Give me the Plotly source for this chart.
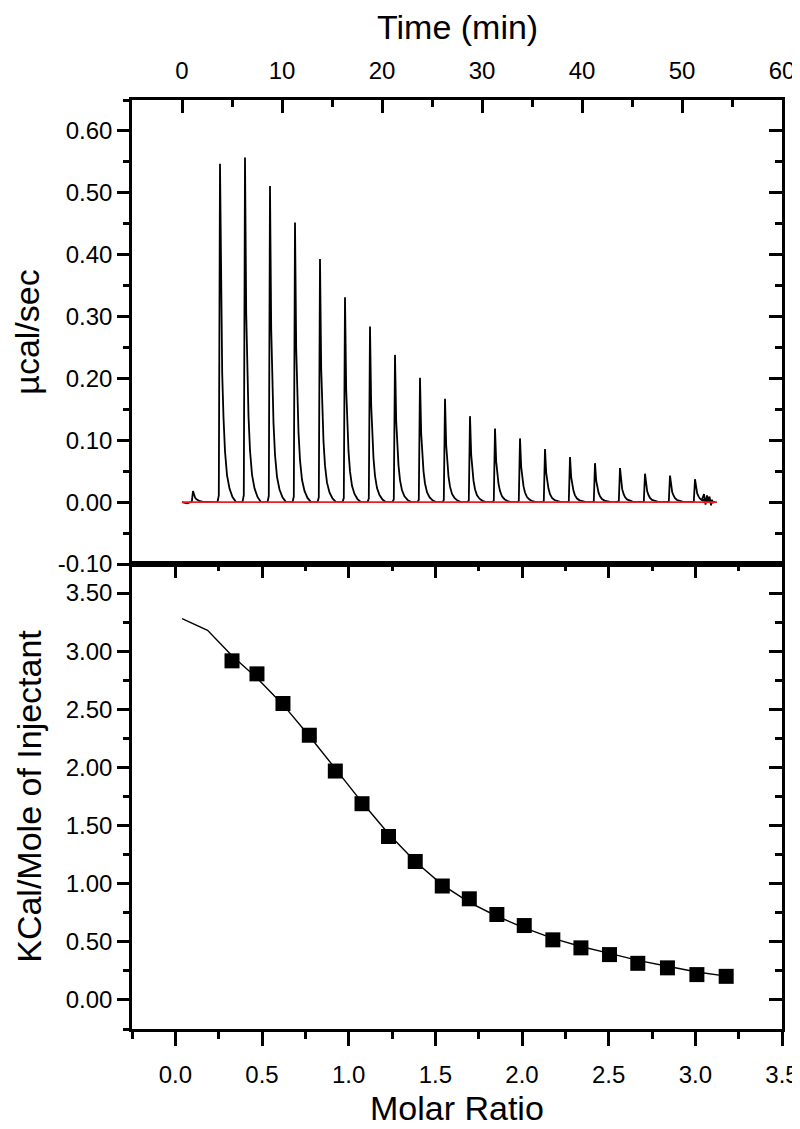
"""ITC titration figure: raw heat trace on top, integrated heats with fit below."""

import plotly.graph_objects as go

# --- raw thermogram (top panel) ---------------------------------------------
# peak times (min) and peak heights (ucal/sec)
PEAK_TIME = [1.1, 3.8, 6.3, 8.8, 11.3, 13.8, 16.3, 18.8, 21.3, 23.8, 26.3,
             28.8, 31.3, 33.8, 36.3, 38.8, 41.3, 43.8, 46.3, 48.8, 51.3]
PEAK_HEIGHT = [0.018, 0.547, 0.557, 0.511, 0.452, 0.393, 0.331, 0.284, 0.238,
               0.201, 0.167, 0.139, 0.119, 0.103, 0.086, 0.073, 0.063, 0.055,
               0.046, 0.043, 0.037]

# shape of one injection peak: offset from peak (min) -> fraction of height
PEAK_SHAPE_DT = [-0.25, -0.12, 0.0, 0.12, 0.22, 0.35, 0.5, 0.7, 0.95, 1.25, 1.6, 2.0]
PEAK_SHAPE_FRAC = [0.0, 0.02, 1.0, 0.55, 0.38, 0.25, 0.15, 0.08, 0.04, 0.015, 0.0, 0.0]

# start of record and noisy tail after the last injection
TRACE_START_T = [0.0, 0.5]
TRACE_START_Y = [0.0, -0.002]
TAIL_T = [52.0, 52.2, 52.35, 52.5, 52.6, 52.75, 52.9, 53.0, 53.1]
TAIL_Y = [0.004, 0.013, -0.004, 0.011, 0.002, 0.009, -0.005, 0.004, -0.002]

BASELINE_T = [0.0, 53.5]
BASELINE_Y = [0.0, 0.0]

# --- integrated heats (bottom panel) ----------------------------------------
MOLAR_RATIO = [0.327, 0.471, 0.621, 0.773, 0.923, 1.077, 1.230, 1.384, 1.540,
               1.696, 1.855, 2.013, 2.178, 2.340, 2.505, 2.668, 2.839, 3.009, 3.178]
HEAT = [2.917, 2.805, 2.550, 2.277, 1.969, 1.688, 1.406, 1.191, 0.980,
        0.870, 0.735, 0.640, 0.517, 0.448, 0.390, 0.315, 0.276, 0.218, 0.203]

FIT_X = [0.039, 0.186, 0.327, 0.471, 0.621, 0.773, 0.923, 1.077, 1.230, 1.384,
         1.540, 1.696, 1.855, 2.013, 2.178, 2.340, 2.505, 2.668, 2.839, 3.009, 3.178]
FIT_Y = [3.28, 3.18, 2.96, 2.77, 2.54, 2.27, 1.99, 1.70, 1.43, 1.19,
         0.99, 0.84, 0.72, 0.62, 0.53, 0.46, 0.40, 0.34, 0.29, 0.24, 0.205]

# tick labels
Y1_TICKS = [-0.1, 0.0, 0.1, 0.2, 0.3, 0.4, 0.5, 0.6]
Y1_LABELS = ["-0.10", "0.00", "0.10", "0.20", "0.30", "0.40", "0.50", "0.60"]

FONT = "Liberation Sans, Arial, sans-serif"
TICK_FONT = dict(family=FONT, size=24, color="black")
TITLE_FONT = dict(family=FONT, size=34, color="black")
SPLIT = 465 / 929  # fraction of plot height used by the bottom panel
PLOT_H = 929       # plot-area height in px, for placing the x titles


def _thermogram():
    ts = list(TRACE_START_T)
    ys = list(TRACE_START_Y)
    for t0, h in zip(PEAK_TIME, PEAK_HEIGHT):
        for dt, f in zip(PEAK_SHAPE_DT, PEAK_SHAPE_FRAC):
            ts.append(t0 + dt)
            ys.append(h * f)
    ts += TAIL_T
    ys += TAIL_Y
    return ts, ys


fig = go.Figure()

raw_t, raw_y = _thermogram()
fig.add_trace(go.Scatter(x=raw_t, y=raw_y, mode="lines",
                         line=dict(color="black", width=1.8),
                         xaxis="x", yaxis="y", showlegend=False))
# baseline drawn over the trace, as in the original
fig.add_trace(go.Scatter(x=BASELINE_T, y=BASELINE_Y, mode="lines",
                         line=dict(color="#ee1c25", width=1.6),
                         xaxis="x", yaxis="y", showlegend=False))

fig.add_trace(go.Scatter(x=FIT_X, y=FIT_Y, mode="lines",
                         line=dict(color="black", width=1.4),
                         xaxis="x2", yaxis="y2", showlegend=False))
fig.add_trace(go.Scatter(x=MOLAR_RATIO, y=HEAT, mode="markers",
                         marker=dict(symbol="square", size=15, color="black"),
                         xaxis="x2", yaxis="y2", showlegend=False))

# empty traces so the overlay (inward tick) axes get drawn
fig.add_trace(go.Scatter(x=[], y=[], xaxis="x", yaxis="y3", showlegend=False))
fig.add_trace(go.Scatter(x=[], y=[], xaxis="x3", yaxis="y2", showlegend=False))
fig.add_trace(go.Scatter(x=[], y=[], xaxis="x2", yaxis="y4", showlegend=False))

common = dict(showgrid=False, zeroline=False, linecolor="black", linewidth=2.5,
              tickcolor="black", tickwidth=2.5, tickfont=TICK_FONT,
              automargin=False, ticklabeloverflow="allow")

# the page body adds an 8px margin, so the figure is offset by 8px and the
# plot margins are trimmed to match the reference positions
fig.update_layout(
    width=792, height=1121, autosize=False,
    margin=dict(l=124, r=18, t=92, b=100),
    paper_bgcolor="white", plot_bgcolor="white",
    showlegend=False,
    # top panel
    xaxis=dict(**common, domain=[0, 1], anchor="y", side="top",
               range=[-5, 60], tick0=0, dtick=10, ticks="inside", ticklen=13,
               minor=dict(dtick=5, ticks="inside", ticklen=7, tickwidth=2.5,
                          tickcolor="black"),
               showline=True, mirror=True, ticklabelstandoff=9),
    yaxis=dict(**common, domain=[SPLIT, 1], anchor="x",
               range=[-0.1, 0.65], tickmode="array", tickvals=Y1_TICKS,
               ticktext=Y1_LABELS, ticks="outside", ticklen=12,
               minor=dict(tick0=0, dtick=0.05, ticks="outside", ticklen=6,
                          tickwidth=2.5, tickcolor="black"),
               showline=True, mirror=True,
               title=dict(text="µcal/sec", font=TITLE_FONT, standoff=14)),
    yaxis3=dict(**common, overlaying="y", anchor="x", side="right",
                range=[-0.1, 0.65], tickmode="array", tickvals=Y1_TICKS,
                ticks="inside", ticklen=13, showticklabels=False, showline=False,
                minor=dict(tick0=0, dtick=0.05, ticks="inside", ticklen=7,
                           tickwidth=2.5, tickcolor="black")),
    # bottom panel
    xaxis2=dict(**common, domain=[0, 1], anchor="y2", side="bottom",
                range=[-0.25, 3.5], tick0=0, dtick=0.5, tickformat=".1f",
                ticks="outside", ticklen=14, ticklabelstandoff=8,
                minor=dict(dtick=0.25, ticks="outside", ticklen=7,
                           tickwidth=2.5, tickcolor="black"),
                showline=True, mirror=True),
    xaxis3=dict(**common, overlaying="x2", anchor="y2", side="top",
                range=[-0.25, 3.5], tick0=0, dtick=0.5, ticks="inside",
                ticklen=14, showticklabels=False, showline=False,
                minor=dict(dtick=0.25, ticks="inside", ticklen=7,
                           tickwidth=2.5, tickcolor="black")),
    yaxis2=dict(**common, domain=[0, SPLIT], anchor="x2",
                range=[-0.25, 3.75], tick0=0, dtick=0.5, tickformat=".2f",
                ticks="outside", ticklen=12,
                minor=dict(dtick=0.25, ticks="outside", ticklen=6,
                           tickwidth=2.5, tickcolor="black"),
                showline=True, mirror=True,
                title=dict(text="KCal/Mole of Injectant", font=TITLE_FONT,
                           standoff=14)),
    yaxis4=dict(**common, overlaying="y2", anchor="x2", side="right",
                range=[-0.25, 3.75], tick0=0, dtick=0.5, ticks="inside",
                ticklen=13, showticklabels=False, showline=False,
                minor=dict(dtick=0.25, ticks="inside", ticklen=7,
                           tickwidth=2.5, tickcolor="black")),
)

# x titles as annotations so they sit where the reference has them
fig.add_annotation(text="Time (min)", font=TITLE_FONT, showarrow=False,
                   xref="paper", yref="paper", x=0.5, y=1 + 73 / PLOT_H,
                   xanchor="center", yanchor="middle")
fig.add_annotation(text="Molar Ratio", font=TITLE_FONT, showarrow=False,
                   xref="paper", yref="paper", x=0.5, y=-79 / PLOT_H,
                   xanchor="center", yanchor="middle")

fig.write_html("out.html")
